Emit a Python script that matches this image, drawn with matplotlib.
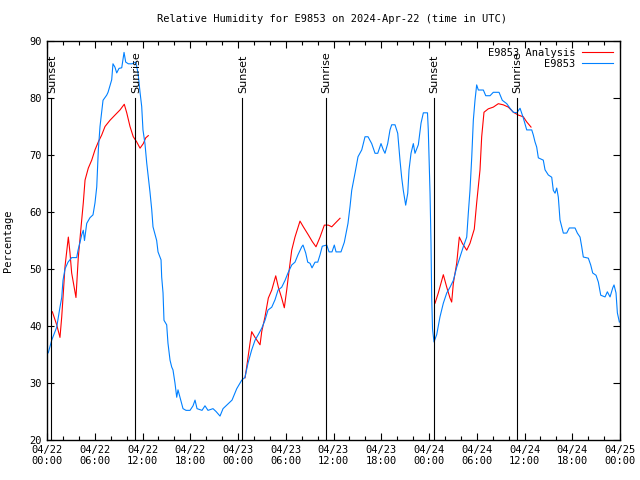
import numpy as np
import matplotlib
matplotlib.use("Agg")
import matplotlib.pyplot as plt
from matplotlib.ticker import MultipleLocator

# hours since 2024-04-22 00:00 UTC
obs_hours = [0.16, 0.59, 1.22, 1.63, 1.85, 2.01, 2.26, 2.64, 3.10, 3.73, 3.90, 4.15, 4.36, 4.56, 4.71, 4.99,
             5.40, 5.78, 6.03, 6.25, 6.45, 6.66, 7.04, 7.50, 7.67, 8.13, 8.29, 8.54, 8.76, 9.05, 9.39, 9.68,
             9.89, 10.22, 10.68, 11.15, 11.44, 11.69, 11.90, 12.06, 12.31, 12.53, 12.94, 13.16, 13.32, 13.78,
             13.95, 14.33, 14.41, 14.58, 14.70, 15.04, 15.20, 15.46, 15.67, 15.83, 16.08, 16.30, 16.46, 16.71,
             17.09, 17.47, 17.97, 18.35, 18.60, 18.85, 19.48, 19.85, 20.23, 20.86, 21.24, 21.74, 22.12, 22.49,
             22.87, 23.25, 23.84, 24.47, 24.88, 25.26, 25.72, 26.14, 26.51, 26.98, 27.39, 27.77, 28.24, 28.65,
             29.03, 29.49, 29.91, 30.28, 30.75, 31.16, 31.54, 32.01, 32.17, 32.51, 32.76, 33.05, 33.30, 33.68,
             34.02, 34.31, 34.59, 35.15, 35.44, 35.81, 36.10, 36.32, 36.94, 37.36, 37.82, 38.08, 38.29, 38.70,
             39.08, 39.55, 39.96, 40.34, 40.80, 41.22, 41.56, 41.97, 42.26, 42.47, 42.81, 43.10, 43.31, 43.73,
             44.07, 44.36, 44.57, 44.77, 45.07, 45.33, 45.49, 45.74, 46.03, 46.24, 46.66, 47.00, 47.29, 47.81,
             47.91, 48.13, 48.25, 48.34, 48.44, 48.63, 48.97, 49.38, 49.80, 50.23, 50.64, 51.06, 51.48, 51.90,
             52.31, 52.74, 52.94, 53.15, 53.37, 53.57, 53.78, 53.99, 54.20, 54.83, 55.13, 55.67, 56.08, 56.80,
             57.21, 57.77, 58.18, 58.60, 59.03, 59.44, 59.85, 60.28, 60.91, 61.11, 61.32, 61.53, 61.74, 62.36,
             62.58, 62.99, 63.42, 63.62, 63.84, 64.05, 64.25, 64.37, 64.46, 64.68, 64.88, 65.30, 65.63, 66.35,
             66.64, 66.98, 67.19, 67.39, 68.02, 68.32, 68.57, 68.99, 69.28, 69.58, 70.12, 70.41, 70.75, 71.09,
             71.25, 71.50, 71.67, 71.92]
obs_rh = [35.3, 37.5, 39.8, 43.3, 45.0, 48.0, 50.0, 51.2, 52.0, 52.0, 53.3, 54.7, 56.0, 56.8, 55.0, 58.0,
          59.0, 59.5, 61.6, 64.4, 70.9, 75.0, 79.6, 80.5, 81.0, 83.2, 86.0, 85.4, 84.4, 85.2, 85.3, 88.0,
          86.3, 86.0, 86.0, 86.3, 84.4, 81.0, 78.5, 74.4, 72.0, 68.6, 63.5, 60.4, 57.4, 55.0,
          53.0, 51.6, 48.6, 45.8, 41.0, 40.2, 37.0, 34.0, 32.8, 32.3, 30.0, 27.5, 28.8, 27.5,
          25.5, 25.2, 25.2, 26.0, 27.0, 25.5, 25.2, 26.0, 25.2, 25.5, 25.0, 24.2, 25.5, 26.0,
          26.5, 27.0, 29.0, 30.5, 31.0, 33.5, 35.8, 37.5, 38.4, 39.6, 41.0, 42.8, 43.3, 44.6,
          46.3, 46.8, 48.0, 49.3, 50.7, 51.2, 52.5, 53.9, 54.2, 52.8, 51.2, 51.0, 50.2, 51.2,
          51.2, 52.5, 54.0, 54.2, 53.0, 53.0, 54.2, 53.0, 53.0, 54.7, 58.0, 61.0, 63.8, 66.8,
          69.7, 70.9, 73.2, 73.2, 72.0, 70.3, 70.3, 72.0, 70.9, 70.3, 72.0, 74.4, 75.3, 75.3,
          73.8, 69.0, 66.0, 63.8, 61.2, 63.3, 67.4, 70.3, 72.0, 70.3, 71.8, 75.6, 77.4, 77.4,
          74.4, 63.3, 54.6, 45.0, 39.5, 37.2, 38.5, 41.6, 44.0, 45.8, 46.8, 48.0, 50.3, 52.1,
          53.9, 55.6, 59.8, 63.8, 69.6, 76.1, 79.6, 82.3, 81.4, 81.4, 80.4, 80.4, 81.0, 81.0,
          79.6, 79.0, 78.2, 77.5, 77.4, 78.2, 76.5, 74.4, 74.4, 73.5, 72.3, 71.4, 69.5, 69.1,
          67.4, 66.5, 66.1, 63.8, 63.3, 64.2, 62.6, 60.4, 58.6, 57.4, 56.3, 56.3, 57.2, 57.2,
          56.3, 55.6, 53.9, 52.1, 51.9, 50.7, 49.3, 48.9, 47.7, 45.4, 45.1, 46.0, 45.1, 46.7,
          47.2, 45.8, 42.3, 40.7]

# analysis runs (three separate segments)
ana_hours_1 = [0.67, 1.22, 1.63, 1.85, 2.05, 2.26, 2.68, 2.89, 3.10, 3.64, 3.93, 4.36, 4.56, 4.78, 5.19,
               5.62, 6.03, 6.45, 6.87, 7.29, 7.92, 8.54, 9.17, 9.71, 10.02, 10.43, 10.84, 11.27, 11.69,
               12.10, 12.40, 12.73]
ana_rh_1 = [42.5, 40.2, 38.0, 41.6, 45.8, 50.4, 55.6, 52.8, 49.3, 45.0, 52.0, 58.6, 61.6, 65.6, 67.7,
            69.1, 70.9, 72.3, 73.5, 75.0, 76.1, 77.0, 77.9, 78.9, 77.4, 75.0, 73.2, 72.3, 71.2,
            72.0, 73.0, 73.4]
ana_hours_2 = [24.88, 25.09, 25.51, 25.72, 26.14, 26.77, 26.98, 27.39, 27.81, 28.24, 28.74, 29.07, 29.49,
               29.82, 30.12, 30.32, 30.75, 31.16, 31.79, 32.21, 32.83, 33.34, 33.80, 34.31, 34.85, 35.35,
               35.78, 36.19, 36.82]
ana_rh_2 = [30.9, 32.8, 37.0, 39.0, 38.0, 36.7, 39.0, 41.6, 44.9, 46.3, 48.8, 46.8, 44.9,
            43.2, 46.3, 48.6, 53.3, 55.6, 58.4, 57.4, 56.0, 54.8, 53.9, 55.6, 57.7, 57.7,
            57.4, 58.0, 58.9]
ana_hours_3 = [48.76, 49.17, 49.80, 50.23, 50.64, 50.85, 51.06, 51.48, 51.81, 52.19, 52.74, 53.15, 53.69,
               53.99, 54.41, 54.62, 54.91, 55.45, 56.08, 56.71, 57.34, 57.97, 58.60, 59.23, 59.85, 60.28,
               60.82]
ana_rh_3 = [44.0, 45.8, 49.0, 46.8, 44.9, 44.2, 47.5, 51.0, 55.6, 54.5, 53.3, 54.5, 57.0,
            61.6, 67.4, 73.2, 77.5, 78.1, 78.4, 79.0, 78.8, 78.4, 77.5, 77.0, 76.7, 75.8,
            74.9]

sun_hours = [0.5, 11.06, 24.5, 35.05, 48.6, 59.05]
sun_labels = ["Sunset", "Sunrise", "Sunset", "Sunrise", "Sunset", "Sunrise"]

tick_hours = list(range(0, 73, 6))
tick_labels = ["04/22\n00:00", "04/22\n06:00", "04/22\n12:00", "04/22\n18:00",
               "04/23\n00:00", "04/23\n06:00", "04/23\n12:00", "04/23\n18:00",
               "04/24\n00:00", "04/24\n06:00", "04/24\n12:00", "04/24\n18:00",
               "04/25\n00:00"]

mono = "DejaVu Sans Mono"
fig = plt.figure(figsize=(6.4, 4.8), dpi=100)
ax = fig.add_axes([47 / 640, 1 - 440 / 480, 573 / 640, 399 / 480])

red = "#ff0000"
blue = "#0080ff"
lw = 0.8
ax.plot(ana_hours_1, ana_rh_1, color=red, lw=lw, label="E9853 Analysis")
ax.plot(ana_hours_2, ana_rh_2, color=red, lw=lw)
ax.plot(ana_hours_3, ana_rh_3, color=red, lw=lw)
ax.plot(obs_hours, obs_rh, color=blue, lw=lw, label="E9853")

for h, lab in zip(sun_hours, sun_labels):
    ax.plot([h, h], [20, 80], color="black", lw=lw)
    ax.text(h + 0.1, 80.8, lab, rotation=90, ha="center", va="bottom", fontsize=8)

ax.set_xlim(0, 72)
ax.set_ylim(20, 90)
ax.set_xticks(tick_hours)
ax.set_xticklabels(tick_labels, fontsize=7.5, family=mono)
ax.xaxis.set_minor_locator(MultipleLocator(2))
ax.set_yticks(range(20, 91, 10))
for t in ax.get_yticklabels():
    t.set_fontsize(7.5)
    t.set_family(mono)
ax.tick_params(direction="in", which="both", top=True, right=True, width=0.8)
ax.tick_params(which="major", length=5)
ax.tick_params(which="minor", length=3)
for s in ax.spines.values():
    s.set_linewidth(1.0)

ax.set_ylabel("Percentage", fontsize=7.5, family=mono, labelpad=12)
fig.text(332 / 640, 1 - 19 / 480, "Relative Humidity for E9853 on 2024-Apr-22 (time in UTC)",
         ha="center", va="center", fontsize=7.5, family=mono)

leg = ax.legend(loc="upper right", frameon=False, markerfirst=False,
                prop={"family": mono, "size": 7.5}, handlelength=3.0, borderaxespad=0.25,
                labelspacing=0.1, handletextpad=0.6)
for t in leg.get_texts():
    t.set_ha("right")

fig.savefig("out.png", dpi=100)
